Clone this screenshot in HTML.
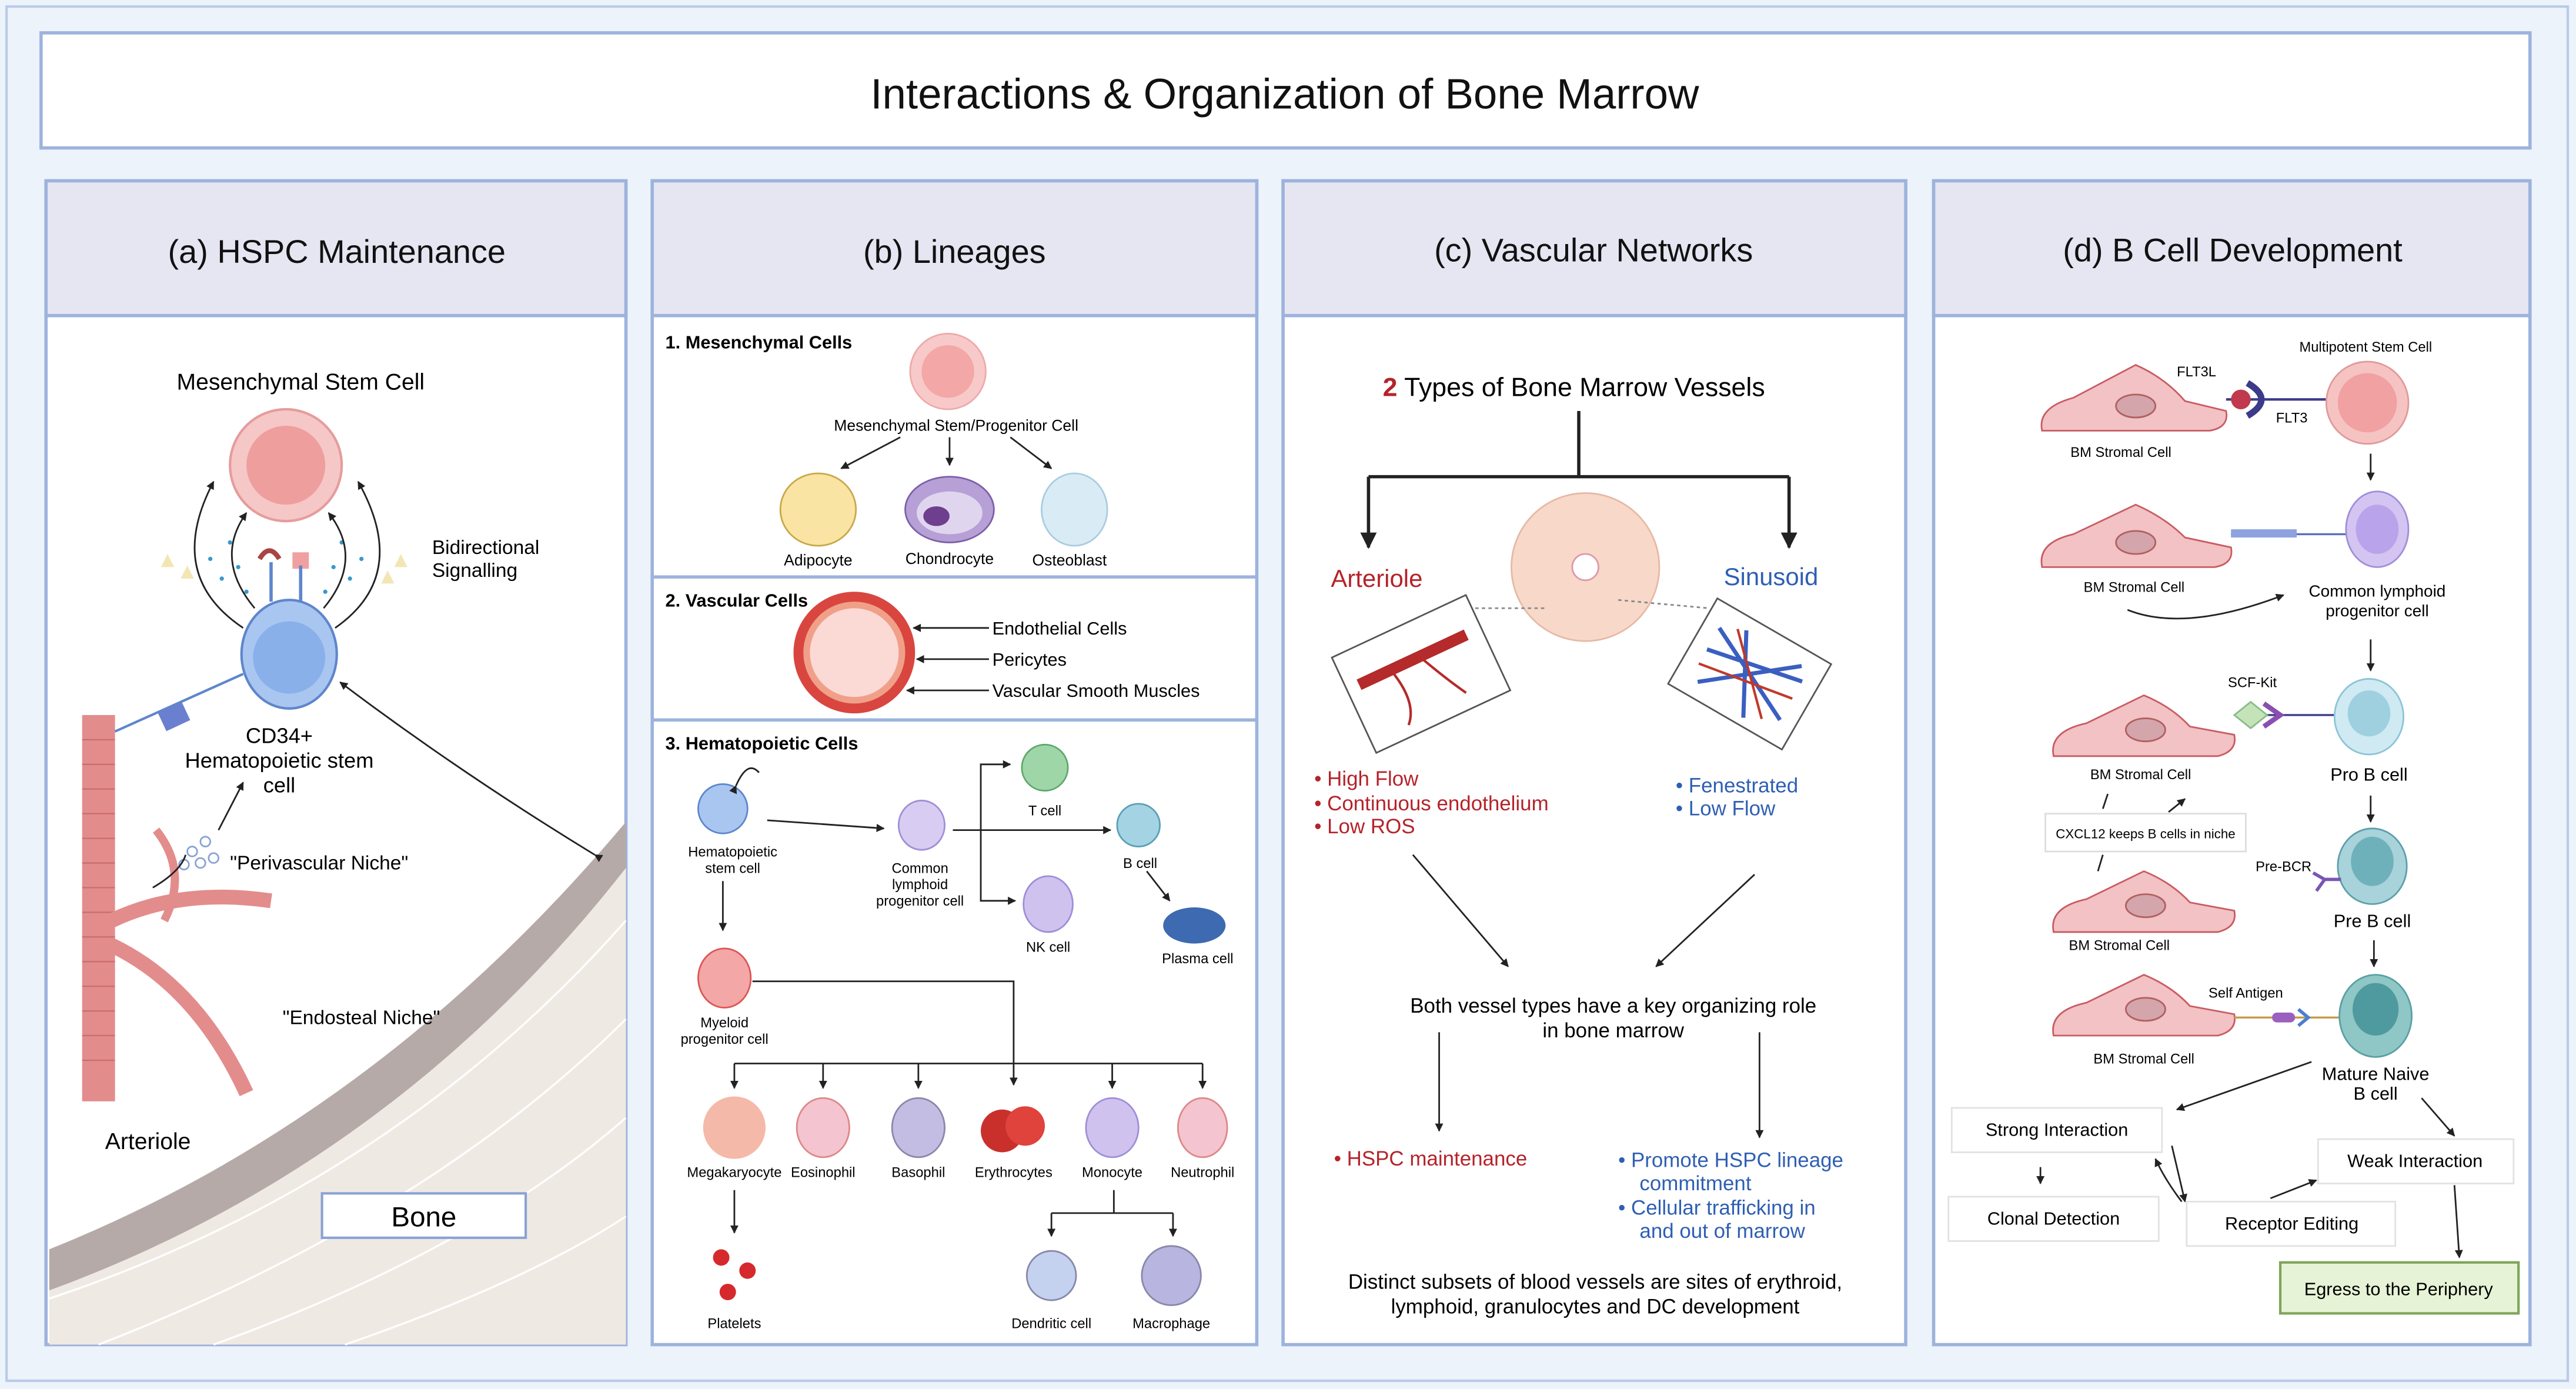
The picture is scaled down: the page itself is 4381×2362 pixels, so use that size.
<!DOCTYPE html>
<html><head><meta charset="utf-8"><style>
html,body{margin:0;padding:0;background:#edf3fb;}
svg{display:block;font-family:"Liberation Sans",sans-serif;}
</style></head><body>
<svg width="4381" height="2362" viewBox="0 0 1568 845" preserveAspectRatio="none" xmlns="http://www.w3.org/2000/svg">
<defs>
<marker id="ar" viewBox="0 0 10 10" refX="9" refY="5" markerWidth="5" markerHeight="5" orient="auto"><path d="M0,0L10,5L0,10z" fill="#222"/></marker>
</defs>
<rect x="0" y="0" width="1568" height="845" fill="#edf3fb"/>
<rect x="4" y="4" width="1559" height="836" fill="#edf3fb" stroke="#b9cbe8" stroke-width="1.5"/>
<!-- title -->
<rect x="25" y="20" width="1515" height="70" fill="#fff" stroke="#9db3dc" stroke-width="2"/>
<text x="782" y="66" font-size="26" text-anchor="middle" fill="#111">Interactions &amp; Organization of Bone Marrow</text>

<!-- panels -->
<g stroke="#9db3dc" stroke-width="2">
<rect x="28" y="110" width="353" height="708" fill="#fff"/>
<rect x="28" y="110" width="353" height="82" fill="#e6e5f2"/>
<rect x="397" y="110" width="368" height="708" fill="#fff"/>
<rect x="397" y="110" width="368" height="82" fill="#e6e5f2"/>
<rect x="781" y="110" width="379" height="708" fill="#fff"/>
<rect x="781" y="110" width="379" height="82" fill="#e6e5f2"/>
<rect x="1177" y="110" width="363" height="708" fill="#fff"/>
<rect x="1177" y="110" width="363" height="82" fill="#e6e5f2"/>
</g>
<g font-size="20" text-anchor="middle" fill="#111">
<text x="205" y="160">(a) HSPC Maintenance</text>
<text x="581" y="160">(b) Lineages</text>
<text x="970" y="159">(c) Vascular Networks</text>
<text x="1359" y="159">(d) B Cell Development</text>
</g>

<!-- ===== Panel A ===== -->
<path d="M30,760 Q230,680 381,500 L381,818 L30,818 Z" fill="#efe9e4"/>
<g stroke="#fff" stroke-width="1.2" fill="none">
<path d="M30,790 Q240,720 381,560"/><path d="M60,818 Q260,740 381,620"/><path d="M130,818 Q290,760 381,680"/><path d="M210,818 Q320,780 381,740"/>
</g>
<path d="M30,760 Q230,680 381,500 L381,528 Q240,708 30,785 Z" fill="#b5aaa8"/>
<rect x="196" y="726" width="124" height="27" fill="#fff" stroke="#8aa3d4" stroke-width="1.5"/>
<text x="258" y="746" font-size="17" text-anchor="middle">Bone</text>
<!-- arteriole -->
<rect x="50" y="435" width="20" height="235" fill="#e38c8c"/>
<g stroke="#c96d6d" stroke-width="0.8">
<line x1="50" y1="450" x2="70" y2="450"/><line x1="50" y1="465" x2="70" y2="465"/><line x1="50" y1="480" x2="70" y2="480"/><line x1="50" y1="495" x2="70" y2="495"/><line x1="50" y1="510" x2="70" y2="510"/><line x1="50" y1="525" x2="70" y2="525"/><line x1="50" y1="540" x2="70" y2="540"/><line x1="50" y1="555" x2="70" y2="555"/><line x1="50" y1="570" x2="70" y2="570"/><line x1="50" y1="585" x2="70" y2="585"/><line x1="50" y1="600" x2="70" y2="600"/><line x1="50" y1="615" x2="70" y2="615"/><line x1="50" y1="630" x2="70" y2="630"/><line x1="50" y1="645" x2="70" y2="645"/>
</g>
<path d="M68,560 Q110,540 165,548" stroke="#e38c8c" stroke-width="9" fill="none"/>
<path d="M68,575 Q120,600 150,665" stroke="#e38c8c" stroke-width="9" fill="none"/>
<path d="M100,560 Q115,530 95,505" stroke="#e38c8c" stroke-width="5" fill="none"/>
<text x="64" y="699" font-size="14">Arteriole</text>
<text x="172" y="623" font-size="12">"Endosteal Niche"</text>
<text x="140" y="529" font-size="12">"Perivascular Niche"</text>
<g fill="none" stroke="#8aa3d4"><circle cx="117" cy="518" r="3"/><circle cx="125" cy="512" r="3"/><circle cx="122" cy="525" r="3"/><circle cx="130" cy="522" r="3"/><circle cx="112" cy="526" r="3"/></g>
<line x1="133" y1="505" x2="148" y2="476" stroke="#222" marker-end="url(#ar)"/>
<path d="M93,540 Q110,530 113,520" stroke="#222" fill="none"/>
<!-- MSC -->
<text x="183" y="237" font-size="14" text-anchor="middle">Mesenchymal Stem Cell</text>
<circle cx="174" cy="283" r="34" fill="#f6c7c7" stroke="#e59c9c" stroke-width="1.5"/>
<circle cx="174" cy="283" r="24" fill="#ef9e9e"/>
<!-- HSC -->
<ellipse cx="176" cy="398" rx="29" ry="33" fill="#a9c6f1" stroke="#5e86cc" stroke-width="1.5"/>
<circle cx="176" cy="400" r="22" fill="#8ab0ea"/>
<path d="M158,340 Q164,330 170,340" stroke="#a44" stroke-width="3" fill="none"/>
<rect x="178" y="336" width="10" height="10" fill="#f0a0a0"/>
<line x1="165" y1="342" x2="165" y2="366" stroke="#5e86cc" stroke-width="2"/>
<line x1="183" y1="344" x2="183" y2="366" stroke="#5e86cc" stroke-width="2"/>
<g fill="#3a98c9"><circle cx="140" cy="330" r="1.3"/><circle cx="145" cy="345" r="1.3"/><circle cx="150" cy="360" r="1.3"/><circle cx="135" cy="352" r="1.3"/><circle cx="208" cy="330" r="1.3"/><circle cx="203" cy="345" r="1.3"/><circle cx="198" cy="360" r="1.3"/><circle cx="213" cy="352" r="1.3"/><circle cx="128" cy="340" r="1.3"/><circle cx="220" cy="340" r="1.3"/></g>
<g fill="#f3e6b5"><path d="M98,345l4,-8l4,8z"/><path d="M110,352l4,-8l4,8z"/><path d="M240,345l4,-8l4,8z"/><path d="M232,355l4,-8l4,8z"/></g>
<path d="M148,382 Q100,350 130,293" stroke="#222" fill="none" marker-end="url(#ar)"/>
<path d="M204,382 Q250,350 218,293" stroke="#222" fill="none" marker-end="url(#ar)"/>
<path d="M155,370 Q130,340 150,312" stroke="#222" fill="none" marker-end="url(#ar)"/>
<path d="M197,370 Q222,340 200,312" stroke="#222" fill="none" marker-end="url(#ar)"/>
<text x="263" y="337" font-size="12">Bidirectional</text>
<text x="263" y="351" font-size="12">Signalling</text>
<text x="170" y="452" font-size="13" text-anchor="middle">CD34+</text>
<text x="170" y="467" font-size="13" text-anchor="middle">Hematopoietic stem</text>
<text x="170" y="482" font-size="13" text-anchor="middle">cell</text>
<line x1="70" y1="445" x2="148" y2="410" stroke="#5e86cc" stroke-width="1.5"/>
<rect x="98" y="430" width="16" height="12" fill="#6b7fd0" transform="rotate(-25 106 436)"/>
<path d="M362,520 Q280,470 207,415" stroke="#222" fill="none" marker-start="url(#ar)" marker-end="url(#ar)"/>

<!-- ===== Panel B ===== -->
<line x1="397" y1="351" x2="765" y2="351" stroke="#9db3dc" stroke-width="2"/>
<line x1="397" y1="438" x2="765" y2="438" stroke="#9db3dc" stroke-width="2"/>
<g font-size="11" font-weight="bold"><text x="405" y="212">1. Mesenchymal Cells</text><text x="405" y="369">2. Vascular Cells</text><text x="405" y="456">3. Hematopoietic Cells</text></g>
<circle cx="577" cy="226" r="23" fill="#f8c9c9" stroke="#eaa" stroke-width="1"/>
<circle cx="577" cy="226" r="16" fill="#f3a7a7"/>
<text x="582" y="262" font-size="9.5" text-anchor="middle">Mesenchymal Stem/Progenitor Cell</text>
<g stroke="#222" marker-end="url(#ar)"><line x1="578" y1="266" x2="578" y2="283"/><line x1="548" y1="266" x2="512" y2="285"/><line x1="615" y1="266" x2="640" y2="285"/></g>
<ellipse cx="498" cy="310" rx="23" ry="22" fill="#f9e4a3" stroke="#c9a84a"/>
<ellipse cx="578" cy="310" rx="27" ry="20" fill="#b7a0d6" stroke="#7d5fa9"/>
<ellipse cx="578" cy="312" rx="20" ry="13" fill="#e0d5ef"/>
<ellipse cx="570" cy="314" rx="8" ry="6" fill="#6d3f8e"/>
<ellipse cx="654" cy="310" rx="20" ry="22" fill="#d9ecf5" stroke="#a9cde0"/>
<g font-size="9.5" text-anchor="middle"><text x="498" y="344">Adipocyte</text><text x="578" y="343">Chondrocyte</text><text x="651" y="344">Osteoblast</text></g>
<circle cx="520" cy="397" r="37" fill="#d9463f"/>
<circle cx="520" cy="397" r="31" fill="#f0a089"/>
<circle cx="520" cy="397" r="27" fill="#fbd9d5"/>
<g stroke="#222" marker-end="url(#ar)"><line x1="602" y1="382" x2="556" y2="382"/><line x1="602" y1="401" x2="558" y2="401"/><line x1="602" y1="420" x2="552" y2="420"/></g>
<g font-size="11"><text x="604" y="386">Endothelial Cells</text><text x="604" y="405">Pericytes</text><text x="604" y="424">Vascular Smooth Muscles</text></g>
<circle cx="440" cy="492" r="15" fill="#a9c6f1" stroke="#5e86cc"/>
<path d="M448,478 Q455,462 462,470" stroke="#222" fill="none" marker-start="url(#ar)"/>
<g font-size="8.5" text-anchor="middle"><text x="446" y="521">Hematopoietic</text><text x="446" y="531">stem cell</text>
<text x="560" y="531">Common</text><text x="560" y="541">lymphoid</text><text x="560" y="551">progenitor cell</text>
<text x="636" y="496">T cell</text><text x="694" y="528">B cell</text><text x="638" y="579">NK cell</text><text x="729" y="586">Plasma cell</text>
<text x="441" y="625">Myeloid</text><text x="441" y="635">progenitor cell</text>
<text x="447" y="716">Megakaryocyte</text><text x="501" y="716">Eosinophil</text><text x="559" y="716">Basophil</text><text x="617" y="716">Erythrocytes</text><text x="677" y="716">Monocyte</text><text x="732" y="716">Neutrophil</text>
<text x="447" y="808">Platelets</text><text x="640" y="808">Dendritic cell</text><text x="713" y="808">Macrophage</text></g>
<line x1="467" y1="499" x2="538" y2="504" stroke="#222" marker-end="url(#ar)"/>
<line x1="440" y1="536" x2="440" y2="566" stroke="#222" marker-end="url(#ar)"/>
<ellipse cx="561" cy="502" rx="14" ry="15" fill="#d8ccf3" stroke="#a08ed6"/>
<g stroke="#222" fill="none"><path d="M580,505 L597,505 L597,465 L615,465" marker-end="url(#ar)"/><path d="M597,505 L597,548 L618,548" marker-end="url(#ar)"/><line x1="597" y1="505" x2="676" y2="505" marker-end="url(#ar)"/><line x1="698" y1="530" x2="712" y2="548" marker-end="url(#ar)"/></g>
<circle cx="636" cy="467" r="14" fill="#9fd6a8" stroke="#5fa76c"/>
<circle cx="693" cy="502" r="13" fill="#a4d4e4" stroke="#5c9fb9"/>
<ellipse cx="638" cy="550" rx="15" ry="17" fill="#cfc2ef" stroke="#a08ed6"/>
<ellipse cx="727" cy="563" rx="19" ry="11" fill="#3d6ab0"/>
<ellipse cx="441" cy="595" rx="16" ry="18" fill="#f3a7a7" stroke="#d55"/>
<path d="M458,597 L617,597 L617,660" stroke="#222" fill="none" marker-end="url(#ar)"/>
<path d="M447,647 L732,647" stroke="#222"/>
<g stroke="#222" marker-end="url(#ar)"><line x1="447" y1="647" x2="447" y2="662"/><line x1="501" y1="647" x2="501" y2="662"/><line x1="559" y1="647" x2="559" y2="662"/><line x1="677" y1="647" x2="677" y2="662"/><line x1="732" y1="647" x2="732" y2="662"/><line x1="447" y1="724" x2="447" y2="750"/></g>
<circle cx="447" cy="686" r="19" fill="#f4b9a8"/>
<ellipse cx="501" cy="686" rx="16" ry="18" fill="#f4c4d0" stroke="#d88"/>
<ellipse cx="559" cy="686" rx="16" ry="18" fill="#c4bde3" stroke="#88a"/>
<circle cx="610" cy="688" r="13" fill="#c9302c"/><circle cx="624" cy="685" r="12" fill="#e0423c"/>
<ellipse cx="677" cy="686" rx="16" ry="18" fill="#cfc2ef" stroke="#a08ed6"/>
<ellipse cx="732" cy="686" rx="15" ry="18" fill="#f4c4d0" stroke="#d88"/>
<g fill="#d6292d"><circle cx="439" cy="765" r="5"/><circle cx="455" cy="773" r="5"/><circle cx="443" cy="786" r="5"/></g>
<path d="M678,724 L678,738 M640,738 L714,738" stroke="#222"/>
<g stroke="#222" marker-end="url(#ar)"><line x1="640" y1="738" x2="640" y2="752"/><line x1="714" y1="738" x2="714" y2="752"/></g>
<circle cx="640" cy="776" r="15" fill="#c4d2ef" stroke="#88a"/>
<circle cx="713" cy="776" r="18" fill="#b8b5e0" stroke="#88a"/>

<!-- ===== Panel C ===== -->
<text x="958" y="241" font-size="16" text-anchor="middle"><tspan fill="#b5232a" font-weight="bold">2</tspan> Types of Bone Marrow Vessels</text>
<path d="M961,250 L961,290 M833,290 L1089,290" stroke="#222" stroke-width="2" fill="none"/>
<g stroke="#222" stroke-width="2" marker-end="url(#ar)"><line x1="833" y1="290" x2="833" y2="333"/><line x1="1089" y1="290" x2="1089" y2="333"/></g>
<text x="838" y="357" font-size="15" fill="#b5232a" text-anchor="middle">Arteriole</text>
<text x="1078" y="356" font-size="15" fill="#2f5fb3" text-anchor="middle">Sinusoid</text>
<circle cx="965" cy="345" r="45" fill="#f8d8c9" stroke="#e6b9a6"/>
<circle cx="965" cy="345" r="8" fill="#fff" stroke="#d9a"/>
<g stroke="#888" stroke-dasharray="2,2"><line x1="940" y1="370" x2="880" y2="370"/><line x1="985" y1="365" x2="1040" y2="370"/></g>
<g transform="rotate(-25 865 410)"><rect x="820" y="378" width="90" height="64" fill="#fff" stroke="#555"/><line x1="828" y1="400" x2="900" y2="400" stroke="#b52a2a" stroke-width="7"/><path d="M850,403 Q855,425 845,435 M870,403 Q878,420 885,432" stroke="#b52a2a" stroke-width="1.5" fill="none"/></g>
<g transform="rotate(30 1065 410)"><rect x="1025" y="380" width="80" height="60" fill="#fff" stroke="#555"/><path d="M1035,395 L1095,425 M1035,410 L1095,398 M1040,430 L1090,390 M1050,388 L1075,435" stroke="#3a5fc0" stroke-width="2.5"/><path d="M1035,420 L1095,410 M1045,390 L1085,430" stroke="#c0392b" stroke-width="1.5"/></g>
<g font-size="12.5" fill="#b5232a"><text x="800" y="478">•  High Flow</text><text x="800" y="493">•  Continuous endothelium</text><text x="800" y="507">•  Low ROS</text></g>
<g font-size="12.5" fill="#2f5fb3"><text x="1020" y="482">•  Fenestrated</text><text x="1020" y="496">•  Low Flow</text></g>
<g stroke="#222" marker-end="url(#ar)"><line x1="860" y1="520" x2="918" y2="588"/><line x1="1068" y1="532" x2="1008" y2="588"/><line x1="876" y1="628" x2="876" y2="688"/><line x1="1071" y1="628" x2="1071" y2="692"/></g>
<text x="982" y="616" font-size="12.5" text-anchor="middle">Both vessel types have a key organizing role</text>
<text x="982" y="631" font-size="12.5" text-anchor="middle">in bone marrow</text>
<text x="812" y="709" font-size="12.5" fill="#b5232a">•  HSPC maintenance</text>
<g font-size="12.5" fill="#2f5fb3"><text x="985" y="710">•  Promote HSPC lineage</text><text x="998" y="724">commitment</text><text x="985" y="739">•  Cellular trafficking in</text><text x="998" y="753">and out of marrow</text></g>
<text x="971" y="784" font-size="12.5" text-anchor="middle">Distinct subsets of blood vessels are sites of erythroid,</text>
<text x="971" y="799" font-size="12.5" text-anchor="middle">lymphoid, granulocytes and DC development</text>

<!-- ===== Panel D ===== -->
<g fill="#f2c2c4" stroke="#c95c62" stroke-width="1">
<path d="M1243,262 Q1240,248 1262,242 L1300,222 Q1318,230 1330,244 L1355,250 Q1357,260 1345,262 Z"/>
<path d="M1243,345 Q1240,330 1262,325 L1300,307 Q1318,315 1330,327 L1358,333 Q1360,343 1348,345 Z"/>
<path d="M1250,460 Q1247,445 1270,440 L1305,423 Q1322,430 1333,442 L1360,447 Q1362,457 1350,460 Z"/>
<path d="M1250,567 Q1247,552 1270,547 L1305,530 Q1322,537 1333,549 L1360,554 Q1362,564 1350,567 Z"/>
<path d="M1250,630 Q1247,615 1270,610 L1305,593 Q1322,600 1333,612 L1360,617 Q1362,627 1350,630 Z"/>
</g>
<g fill="#d5a5ac" stroke="#b06060"><ellipse cx="1300" cy="247" rx="12" ry="7"/><ellipse cx="1300" cy="330" rx="12" ry="7"/><ellipse cx="1306" cy="444" rx="12" ry="7"/><ellipse cx="1306" cy="551" rx="12" ry="7"/><ellipse cx="1306" cy="614" rx="12" ry="7"/></g>
<g font-size="8.5" text-anchor="middle"><text x="1291" y="278">BM Stromal Cell</text><text x="1299" y="360">BM Stromal Cell</text><text x="1303" y="474">BM Stromal Cell</text><text x="1290" y="578">BM Stromal Cell</text><text x="1305" y="647">BM Stromal Cell</text>
<text x="1337" y="229">FLT3L</text><text x="1395" y="257">FLT3</text><text x="1440" y="214">Multipotent Stem Cell</text><text x="1371" y="418">SCF-Kit</text><text x="1390" y="530">Pre-BCR</text><text x="1367" y="607">Self Antigen</text></g>
<line x1="1355" y1="243" x2="1417" y2="243" stroke="#3b3b8a" stroke-width="1.5"/>
<circle cx="1364" cy="243" r="6" fill="#c0394e"/>
<path d="M1368,233 Q1385,243 1368,253" stroke="#3b3b8a" stroke-width="4" fill="none"/>
<circle cx="1441" cy="245" r="25" fill="#f6c3c3" stroke="#e09a9a"/>
<circle cx="1441" cy="245" r="18" fill="#f1a1a1"/>
<g stroke="#222" marker-end="url(#ar)"><line x1="1443" y1="276" x2="1443" y2="292"/><line x1="1443" y1="389" x2="1443" y2="408"/><line x1="1443" y1="484" x2="1443" y2="500"/><line x1="1445" y1="572" x2="1445" y2="588"/></g>
<line x1="1358" y1="325" x2="1428" y2="325" stroke="#5a6fb8" stroke-width="1.2"/>
<rect x="1358" y="322" width="40" height="5" fill="#8ea2e0"/>
<ellipse cx="1447" cy="322" rx="19" ry="23" fill="#d3c4f2" stroke="#a08ed6"/>
<ellipse cx="1447" cy="322" rx="13" ry="15" fill="#b9a3ea"/>
<text x="1447" y="363" font-size="10" text-anchor="middle">Common lymphoid</text>
<text x="1447" y="375" font-size="10" text-anchor="middle">progenitor cell</text>
<path d="M1295,371 Q1330,385 1390,362" stroke="#222" fill="none" marker-end="url(#ar)"/>
<line x1="1360" y1="435" x2="1422" y2="435" stroke="#3b3b8a" stroke-width="1.2"/>
<path d="M1360,435 L1370,427 L1380,435 L1370,443 Z" fill="#c5e3b8" stroke="#8b8"/>
<path d="M1378,428 L1388,435 L1378,442" stroke="#8a4fb0" stroke-width="3" fill="none"/>
<ellipse cx="1442" cy="436" rx="21" ry="23" fill="#cfeaf3" stroke="#8cc4d6"/>
<ellipse cx="1442" cy="434" rx="13" ry="14" fill="#9fd0e0"/>
<text x="1442" y="475" font-size="11" text-anchor="middle">Pro B cell</text>
<rect x="1245" y="495" width="122" height="23" fill="#fff" stroke="#ddd"/>
<text x="1306" y="510" font-size="8" text-anchor="middle">CXCL12 keeps B cells in niche</text>
<line x1="1280" y1="492" x2="1283" y2="483" stroke="#222"/>
<line x1="1320" y1="494" x2="1330" y2="486" stroke="#222" marker-end="url(#ar)"/>
<line x1="1280" y1="520" x2="1277" y2="530" stroke="#222"/>
<ellipse cx="1444" cy="527" rx="21" ry="23" fill="#a8d3da" stroke="#5e9fab"/>
<ellipse cx="1444" cy="524" rx="13" ry="15" fill="#6fb1bb"/>
<path d="M1425,535 L1415,535 M1408,531 L1415,535 L1410,542" stroke="#7a55b5" stroke-width="2" fill="none"/>
<text x="1444" y="564" font-size="11" text-anchor="middle">Pre B cell</text>
<line x1="1360" y1="619" x2="1425" y2="619" stroke="#c39a4a" stroke-width="1.2"/>
<rect x="1383" y="616" width="14" height="6" rx="3" fill="#9b5fc0"/>
<path d="M1399,614 L1405,619 L1399,624" stroke="#4a7fd0" stroke-width="2" fill="none"/>
<ellipse cx="1446" cy="618" rx="22" ry="25" fill="#8fc6c6" stroke="#5aa0a0"/>
<ellipse cx="1446" cy="614" rx="14" ry="16" fill="#4f9a9e"/>
<text x="1446" y="657" font-size="11" text-anchor="middle">Mature Naive</text>
<text x="1446" y="669" font-size="11" text-anchor="middle">B cell</text>
<g fill="#fff" stroke="#e2e2e2" stroke-width="1">
<rect x="1188" y="674" width="128" height="27"/><rect x="1186" y="728" width="128" height="27"/><rect x="1331" y="731" width="127" height="27"/><rect x="1411" y="693" width="119" height="27"/>
</g>
<rect x="1388" y="768" width="145" height="31" fill="#e6f3d6" stroke="#7ea55a" stroke-width="1.5"/>
<g font-size="11" text-anchor="middle"><text x="1252" y="691">Strong Interaction</text><text x="1250" y="745">Clonal Detection</text><text x="1395" y="748">Receptor Editing</text><text x="1470" y="710">Weak Interaction</text><text x="1460" y="788">Egress to the Periphery</text></g>
<g stroke="#222" marker-end="url(#ar)" fill="none">
<line x1="1407" y1="646" x2="1325" y2="675"/><line x1="1474" y1="668" x2="1494" y2="691"/><line x1="1242" y1="710" x2="1242" y2="720"/>
<line x1="1322" y1="697" x2="1330" y2="731"/><path d="M1328,731 Q1318,718 1312,705"/><line x1="1382" y1="729" x2="1410" y2="718"/><line x1="1494" y1="721" x2="1497" y2="765"/>
</g>
</svg>
</body></html>
